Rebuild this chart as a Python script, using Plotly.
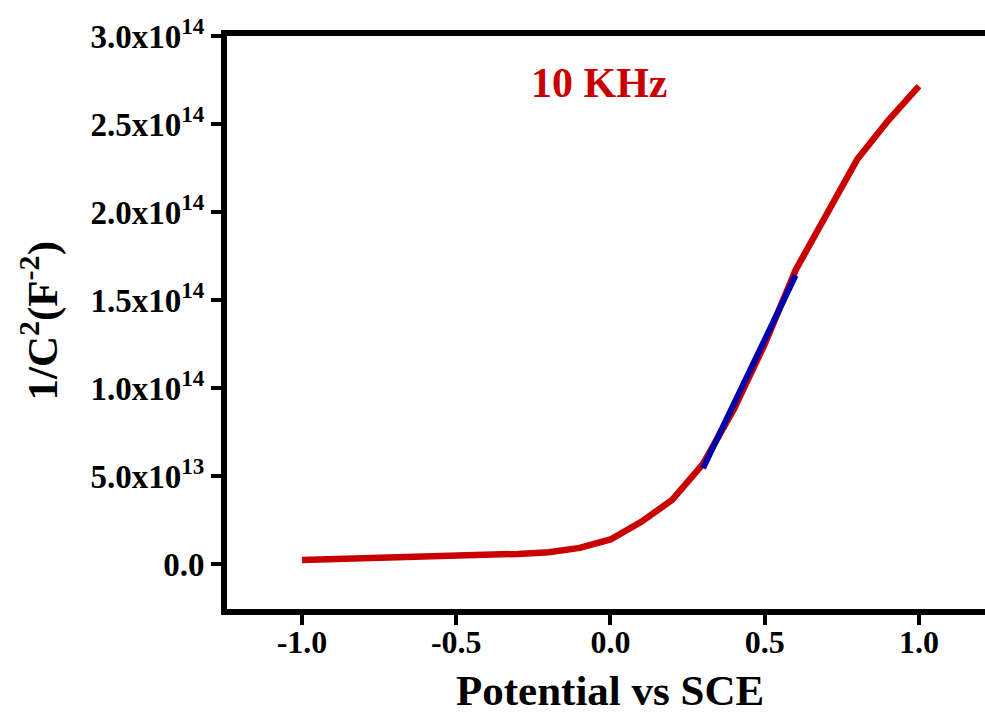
import plotly.graph_objects as go

# Data
potential = [-1.0, -0.9, -0.8, -0.7, -0.6, -0.5, -0.4, -0.3, -0.2, -0.1, 0.0,
             0.1, 0.2, 0.3, 0.4, 0.5, 0.6, 0.7, 0.8, 0.9, 1.0]
inv_c2 = [2.4e12, 2.8e12, 3.2e12, 3.6e12, 4.0e12, 4.5e12, 5.1e12, 5.8e12, 6.8e12, 9.2e12, 1.4e13,
          2.4e13, 3.65e13, 5.7e13, 8.8e13, 1.25e14, 1.67e14, 1.98e14, 2.3e14, 2.52e14, 2.715e14]
fit_x = [0.3, 0.6]
fit_y = [5.45e13, 1.64e14]

y_tickvals = [0, 5e13, 1e14, 1.5e14, 2e14, 2.5e14, 3e14]
y_ticktext = ["0.0", "5.0x10<sup>13</sup>", "1.0x10<sup>14</sup>", "1.5x10<sup>14</sup>",
              "2.0x10<sup>14</sup>", "2.5x10<sup>14</sup>", "3.0x10<sup>14</sup>"]
x_tickvals = [-1.0, -0.5, 0.0, 0.5, 1.0]
x_ticktext = ["-1.0", "-0.5", "0.0", "0.5", "1.0"]

FONT = "Liberation Serif, Times New Roman, serif"

fig = go.Figure()
fig.add_trace(go.Scatter(x=potential, y=inv_c2, mode="lines",
                         line=dict(color="#c80000", width=6.5), showlegend=False))
fig.add_trace(go.Scatter(x=fit_x, y=fit_y, mode="lines",
                         line=dict(color="#0000a8", width=6), showlegend=False))

fig.update_layout(
    width=985, height=713,
    margin=dict(l=227, r=0, t=36, b=104),
    paper_bgcolor="white", plot_bgcolor="white",
    font=dict(family=FONT, color="black", size=32, weight="bold"),
    xaxis=dict(range=[-1.243, 1.214], tickvals=x_tickvals, ticktext=x_ticktext,
               showgrid=False, zeroline=False, showline=True, linecolor="black",
               linewidth=6, mirror=True, ticks="outside", ticklen=10, tickwidth=4,
               tickcolor="black", ticklabelstandoff=-10,
               tickfont=dict(family=FONT, size=32, weight="bold")),
    yaxis=dict(range=[-2.55e13, 3.0e14], tickvals=y_tickvals, ticktext=y_ticktext,
               showgrid=False, zeroline=False, showline=True, linecolor="black",
               linewidth=6, mirror=False, ticks="outside", ticklen=10, tickwidth=4,
               tickcolor="black", tickfont=dict(family=FONT, size=33, weight="bold")),
    annotations=[
        dict(text="10 KHz", x=0.491, y=0.918, xref="paper", yref="paper",
             xanchor="center", yanchor="middle", showarrow=False,
             font=dict(family=FONT, size=42, color="#c80000", weight="bold")),
        dict(text="Potential vs SCE", x=0.505, y=-0.142, xref="paper", yref="paper",
             xanchor="center", yanchor="middle", showarrow=False,
             font=dict(family=FONT, size=43, color="black", weight="bold")),
        dict(text="1/C<sup>2</sup>(F<sup>-2</sup>)", x=-0.247, y=0.503, xref="paper", yref="paper",
             xanchor="center", yanchor="middle", showarrow=False, textangle=-90,
             font=dict(family=FONT, size=43, color="black", weight="bold")),
    ],
)

fig.write_html("out.html")
